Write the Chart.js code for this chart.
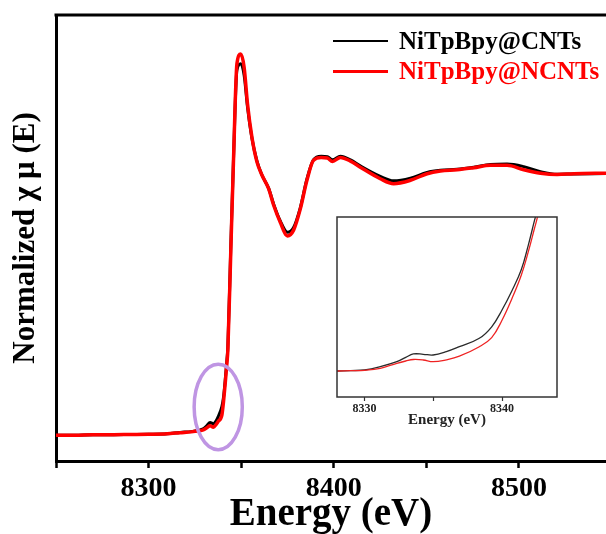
<!DOCTYPE html>
<html><head><meta charset="utf-8">
<script src="https://cdn.jsdelivr.net/npm/chart.js@4.4.1/dist/chart.umd.min.js"></script>
<style>
html,body{margin:0;padding:0;background:#fff;}
#wrap{position:relative;width:606px;height:534px;overflow:hidden;}
#main{position:absolute;left:0;top:0;}
#inset{position:absolute;left:300px;top:200px;}
</style></head><body>
<div id="wrap"><canvas id="main" width="606" height="534"></canvas><canvas id="inset" width="270" height="230"></canvas></div>
<script>
// ---- main spectrum data ----
const energy = [8250,8260,8270,8280,8290,8300,8310,8317,8323,8327,
  8329.5,8331.5,8333.2,8335,8336.5,8337.6,
  8339.6,8340.4,8341.4,8342.3,8342.8,
  8344.4,8345.8,8347.7,8349.8,8351.6,8353.4,
  8355.8,8358.5,8361.2,8364.8,8367.5,8371.1,
  8375,8378.3,8381.9,8385.5,8389,
  8393.2,8396.5,8399.3,8403.6,8409,8414.3,
  8425.1,8432.3,8441.4,8450.4,8457.6,
  8466.6,8475.6,8484.6,8493.6,8502.6,
  8511.6,8520.6,8529.6,8547];
const cntMu = [-0.002,-0.002,0,0,0.001,0.002,0.004,0.009,0.012,0.017,
  0.023,0.035,0.047,0.042,0.053,0.069,
  0.108,0.14,0.21,0.285,0.335,
  0.72,1.04,1.39,1.414,1.37,1.25,
  1.13,1.044,0.99,0.94,0.88,0.815,
  0.772,0.79,0.865,0.975,1.048,
  1.062,1.06,1.048,1.062,1.048,1.025,
  0.985,0.968,0.978,1.0,1.008,
  1.012,1.02,1.03,1.032,1.022,
  1.003,0.993,0.994,0.996];
const ncntMu = [-0.002,-0.002,0,0,0.001,0.002,0.004,0.008,0.011,0.015,
  0.019,0.027,0.034,0.029,0.040,0.051,
  0.076,0.122,0.198,0.274,0.323,
  0.703,1.034,1.414,1.451,1.400,1.262,
  1.134,1.04,0.99,0.938,0.876,0.81,
  0.758,0.78,0.86,0.97,1.046,
  1.057,1.055,1.042,1.057,1.043,1.02,
  0.976,0.957,0.970,0.995,1.005,
  1.010,1.018,1.027,1.027,1.010,
  0.997,0.992,0.995,0.997];
const seriesLabels = ['NiTpBpy@CNTs', 'NiTpBpy@NCNTs'];
const xTicks = [8250, 8300, 8350, 8400, 8450, 8500];
const xTickLabels = ['8300', '8400', '8500'];
// highlighted pre-edge region (energy centre, mu centre, half-widths)
const highlight = {e: 8337.6, mu: 0.106, de: 13, dmu: 0.163};

// ---- inset (pre-edge zoom) data ----
const insetEnergy = [8328,8329,8330,8331.15,8332.35,8333.0,8333.55,8334.27,8334.99,8335.95,
  8336.9,8338.35,8339.25,8340.0,8340.74,8341.4,8341.9,8342.35,8342.6,8343.0];
const insetCnt = [0.0433,0.044,0.045,0.0505,0.0588,0.066,0.0717,0.0712,0.070,0.0755,
  0.0838,0.0978,0.117,0.145,0.178,0.212,0.252,0.293,0.315,0.37];
const insetNcnt = [0.0433,0.044,0.0445,0.0478,0.0562,0.060,0.0625,0.0617,0.0588,0.062,
  0.068,0.0838,0.099,0.128,0.165,0.203,0.241,0.28,0.302,0.35];
const insetTicks = [8330, 8335, 8340];
const insetTickLabels = ['8330', '8340'];

const SERIF = "'Liberation Serif', 'Times New Roman', serif";
const pts = (xs, ys) => xs.map((x, i) => ({x, y: ys[i]}));

const frameTop = {
  id: 'frameTop',
  afterDraw(chart) {
    const {ctx, chartArea: a} = chart;
    ctx.save();
    ctx.strokeStyle = '#000'; ctx.lineWidth = 3;
    ctx.beginPath(); ctx.moveTo(a.left - 1.5, a.top); ctx.lineTo(a.right + 2, a.top); ctx.stroke();
    ctx.restore();
  }
};
const ellipsePlugin = {
  id: 'ellipse',
  afterDatasetsDraw(chart) {
    const {ctx, scales: {x, y}} = chart;
    const cx = x.getPixelForValue(highlight.e), cy = y.getPixelForValue(highlight.mu);
    const rx = Math.abs(x.getPixelForValue(highlight.e + highlight.de) - cx);
    const ry = Math.abs(y.getPixelForValue(highlight.mu + highlight.dmu) - cy);
    ctx.save();
    ctx.strokeStyle = '#bf95e3'; ctx.lineWidth = 3.5;
    ctx.beginPath(); ctx.ellipse(cx, cy, rx, ry, 0, 0, Math.PI * 2); ctx.stroke();
    ctx.restore();
  }
};
const legendPlugin = {
  id: 'inlineLegend',
  afterDraw(chart) {
    const {ctx} = chart;
    ctx.save();
    ctx.font = "bold 25px " + SERIF;
    ctx.textBaseline = 'middle';
    const rows = [{ds: chart.data.datasets[0], y: 41, w: 2.2}, {ds: chart.data.datasets[1], y: 71.5, w: 3.2}];
    rows.forEach(r => {
      ctx.strokeStyle = r.ds.borderColor; ctx.lineWidth = r.w;
      ctx.beginPath(); ctx.moveTo(333, r.y); ctx.lineTo(388, r.y); ctx.stroke();
      ctx.fillStyle = r.ds.borderColor;
      ctx.fillText(r.ds.label, 399, r.y + 1.5);
    });
    ctx.restore();
  }
};

new Chart(document.getElementById('main'), {
  type: 'line',
  data: {
    datasets: [
      {label: seriesLabels[0], data: pts(energy, cntMu), borderColor: '#000000', borderWidth: 3, order: 1},
      {label: seriesLabels[1], data: pts(energy, ncntMu), borderColor: '#ff0000', borderWidth: 3.5, order: 0}
    ]
  },
  options: {
    responsive: false, animation: false, devicePixelRatio: 1,
    layout: {padding: {top: 15, right: 0, left: 0, bottom: 0}},
    elements: {point: {radius: 0}, line: {cubicInterpolationMode: 'monotone'}},
    plugins: {legend: {display: false}, tooltip: {enabled: false}},
    scales: {
      x: {
        type: 'linear', min: 8250, max: 8547,
        afterBuildTicks: s => { s.ticks = xTicks.map(v => ({value: v})); },
        afterFit: s => { s.height = 73; },
        ticks: {
          autoSkip: false, maxRotation: 0, padding: 4, color: '#000',
          font: {family: SERIF, size: 28, weight: 'bold'},
          callback: v => xTickLabels.includes(String(v)) ? String(v) : ''
        },
        grid: {display: true, drawOnChartArea: false, drawTicks: true, tickLength: 7, tickWidth: 2.5, tickColor: '#000'},
        border: {display: true, color: '#000', width: 3},
        title: {display: true, text: 'Energy (eV)', color: '#000', padding: {top: 0, bottom: 0},
          font: {family: SERIF, size: 39, weight: 'bold', lineHeight: 1.0}}
      },
      y: {
        min: -0.1, max: 1.6,
        afterFit: s => { s.width = 56; },
        ticks: {display: false},
        grid: {display: false, drawTicks: false},
        border: {display: true, color: '#000', width: 3},
        title: {display: true, text: 'Normalized χ μ (E)', color: '#000', padding: {top: 7, bottom: 0},
          font: {family: SERIF, size: 31, weight: 'bold', lineHeight: 1.2}}
      }
    }
  },
  plugins: [frameTop, ellipsePlugin, legendPlugin]
});

const insetFrame = {
  id: 'insetFrame',
  afterDraw(chart) {
    const {ctx, chartArea: a} = chart;
    ctx.save();
    ctx.strokeStyle = '#333'; ctx.lineWidth = 1.5;
    ctx.strokeRect(a.left, a.top, a.right - a.left, a.bottom - a.top);
    ctx.restore();
  }
};

new Chart(document.getElementById('inset'), {
  type: 'line',
  data: {
    datasets: [
      {label: seriesLabels[0], data: pts(insetEnergy, insetCnt), borderColor: '#2a2a2a', borderWidth: 1.3, order: 1},
      {label: seriesLabels[1], data: pts(insetEnergy, insetNcnt), borderColor: '#ee2222', borderWidth: 1.3, order: 0}
    ]
  },
  options: {
    responsive: false, animation: false, devicePixelRatio: 1,
    layout: {padding: {top: 17, right: 13, left: 0, bottom: 0}},
    elements: {point: {radius: 0}, line: {cubicInterpolationMode: 'default', tension: 0.4}},
    plugins: {legend: {display: false}, tooltip: {enabled: false}},
    scales: {
      x: {
        type: 'linear', min: 8328, max: 8344,
        afterBuildTicks: s => { s.ticks = insetTicks.map(v => ({value: v})); },
        afterFit: s => { s.height = 33; },
        ticks: {
          autoSkip: false, maxRotation: 0, padding: 1, color: '#222',
          font: {family: SERIF, size: 12, weight: 'bold'},
          callback: v => insetTickLabels.includes(String(v)) ? String(v) : ''
        },
        grid: {display: true, drawOnChartArea: false, drawTicks: true, tickLength: 4, tickWidth: 1.2, tickColor: '#333'},
        border: {display: false},
        title: {display: true, text: 'Energy (eV)', color: '#222', padding: {top: 0, bottom: 1},
          font: {family: SERIF, size: 15, weight: 'bold', lineHeight: 1.2}}
      },
      y: {
        min: 0, max: 0.3,
        afterFit: s => { s.width = 37; },
        ticks: {display: false},
        grid: {display: false, drawTicks: false},
        border: {display: false}
      }
    }
  },
  plugins: [insetFrame]
});
</script>
</body></html>
